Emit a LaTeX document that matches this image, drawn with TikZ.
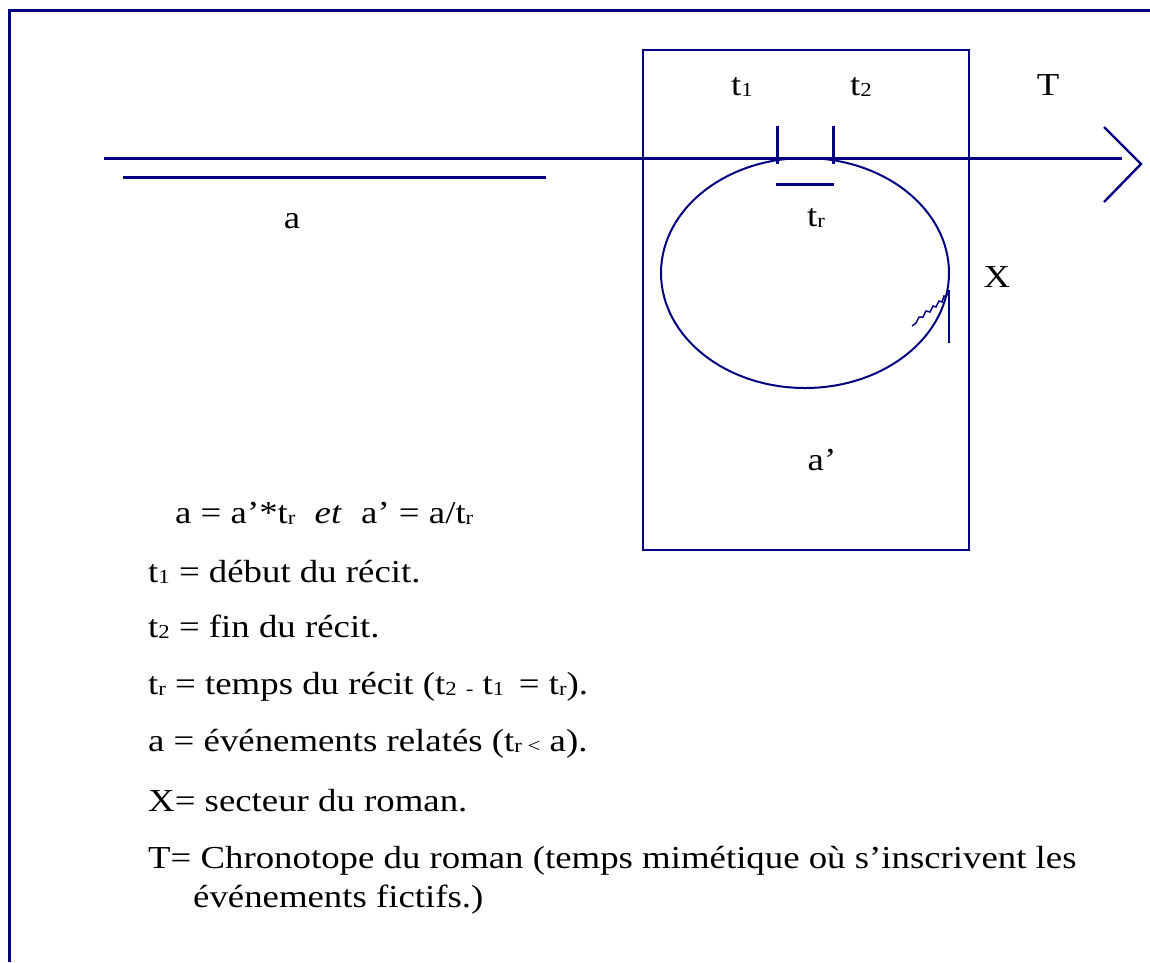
\documentclass[tikz,border=0pt]{standalone}
\usepackage{fontspec}
\usepackage{graphicx}
\usetikzlibrary{shapes.geometric}
\setmainfont{Liberation Serif}
\newfontfamily\refont[FakeStretch=1.15]{Liberation Serif}
\definecolor{navy}{RGB}{0,0,128}
\newcommand{\lo}[1]{\raisebox{-0.06em}{\scalebox{0.62}{#1}}}
\begin{document}
\begin{tikzpicture}[x=1pt,y=-1pt,
  ln/.style={draw=navy,line width=3pt},
  lbl/.style={font=\refont\fontsize{32}{36}\selectfont,inner sep=0pt,anchor=base},
  txt/.style={font=\refont\fontsize{32}{40}\selectfont,inner sep=0pt,anchor=base west}]
\useasboundingbox (0,0) rectangle (1150,962);
% outer frame
\coordinate (fTL) at (9.5,10);
\coordinate (fTR) at (1150,10);
\coordinate (fBL) at (9.5,962);
\draw[ln] (fTR) -- (fTL) -- (fBL);
% sector box
\node[draw=navy,line width=2.4pt,minimum width=326pt,minimum height=500pt,inner sep=0pt] (box) at (806,300) {};
% ellipse
\node[draw=navy,line width=2pt,ellipse,minimum width=288pt,minimum height=230pt,inner sep=0pt] (ell) at (805,273) {};
% time axis
\coordinate (ax0) at (104,158);
\coordinate (ax1) at (1122,158);
\draw[ln] (ax0) -- (ax1);
\coordinate (ah1) at (1104,127);
\coordinate (ahT) at (1141,164);
\coordinate (ah2) at (1104,202);
\draw[draw=navy,line width=2.4pt] (ah1) -- (ahT) -- (ah2);
% a line
\coordinate (a0) at (123,177.5);
\coordinate (a1) at (546,177.5);
\draw[ln] (a0) -- (a1);
% ticks
\coordinate (k1a) at (777,126); \coordinate (k1b) at (777,164);
\coordinate (k2a) at (833,126); \coordinate (k2b) at (833,164);
\draw[ln] (k1a) -- (k1b);
\draw[ln] (k2a) -- (k2b);
\coordinate (r0) at (776,184); \coordinate (r1) at (834,184);
\draw[ln] (r0) -- (r1);
% arrow near X
\coordinate (xv0) at (949,343); \coordinate (xv1) at (949,290);
\coordinate (sq0) at (912,326);
\draw[draw=navy,line width=1.8pt] (xv0) -- (xv1);
\draw[draw=navy,line width=1.5pt] (xv1) -- (946,297) -- (944,296) -- (942,302) -- (939,301) -- (936,307) -- (933,306) -- (930,312) -- (926,311) -- (923,317) -- (919,317) -- (916,323) -- (sq0);
% labels
\node[lbl] (lt1) at (742,95) {t\lo{1}};
\node[lbl] (lt2) at (861,95) {t\lo{2}};
\node[lbl] (lT) at (1048,95) {T};
\node[lbl] (la) at (292,228) {a};
\node[lbl] (ltr) at (816,226) {t\lo{r}};
\node[lbl] (lX) at (997,287) {X};
\node[lbl] (lap) at (822,470) {a’};
% legend
\node[txt] (e0) at (175,523) {a = a’*t\lo{r}\hspace{0.6em}\textit{et}\hspace{0.6em}a’ = a/t\lo{r}};
\node[txt] (e1) at (148,582) {t\lo{1} = début du récit.};
\node[txt] (e2) at (148,637) {t\lo{2} = fin du récit.};
\node[txt] (e3) at (148,694) {t\lo{r} = temps du récit (t\lo{2} \lo{-} t\lo{1}\, = t\lo{r}).};
\node[txt] (e4) at (148,751) {a = événements relatés (t\lo{r \textless} a).};
\node[txt] (e5) at (148,811) {X= secteur du roman.};
\node[txt] (e6) at (148,868) {T= Chronotope du roman (temps mimétique où s’inscrivent les};
\node[txt] (e7) at (193,907) {événements fictifs.)};
\end{tikzpicture}
\end{document}
